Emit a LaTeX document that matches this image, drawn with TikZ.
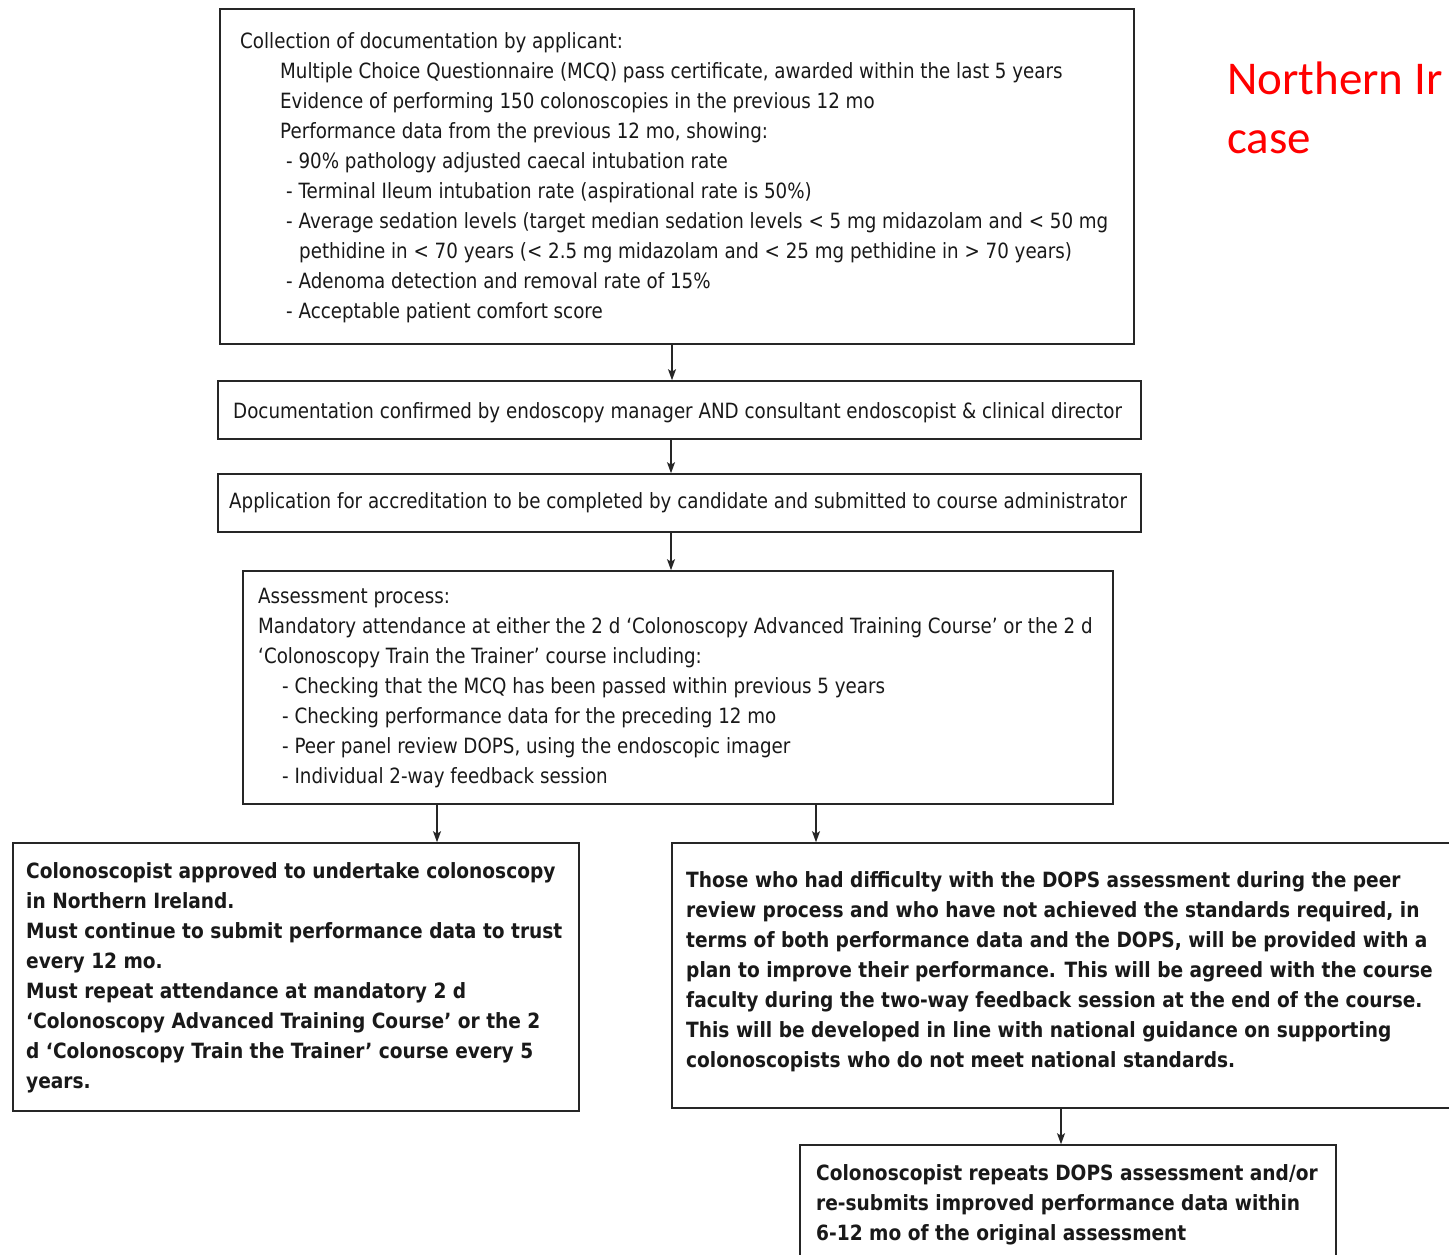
\documentclass[tikz,border=0pt]{standalone}
\usepackage{fontspec}
\setmainfont{DejaVu Sans}[FakeStretch=0.87]
\newfontfamily\bfont{DejaVu Sans}[FakeStretch=0.885]
\newfontfamily\redfont{Carlito}
\usetikzlibrary{arrows.meta}
\tikzset{
  box/.style={draw=black!85, line width=1.6pt, rectangle, inner sep=0pt},
  txt/.style={anchor=north west, inner sep=0pt, align=left, text=black!90,
    font=\fontsize{21}{30}\selectfont},
  btxt/.style={txt, font=\bfont\fontsize{21}{30}\selectfont\bfseries},
  redtxt/.style={anchor=base west, inner sep=0pt, text=red,
    font=\redfont\fontsize{47}{58}\selectfont},
  arr/.style={line width=1.3pt, draw=black!85, -{Stealth[length=11pt,width=8pt,inset=2.5pt]}},
}
\begin{document}
\begin{tikzpicture}[x=1pt,y=-1pt]
\useasboundingbox (0,0) rectangle (1449,1255);
\clip (0,0) rectangle (1449,1255);
\fill[white] (0,0) rectangle (1449,1255);

% boxes
\node[box, minimum width=914pt, minimum height=335pt] (b1) at (677,176.5) {};
\node[box, minimum width=923pt, minimum height=58pt] (b2) at (679.5,410) {};
\node[box, minimum width=923pt, minimum height=58pt] (b3) at (679.5,503) {};
\node[box, minimum width=870pt, minimum height=233pt] (b4) at (678,687.5) {};
\node[box, minimum width=566pt, minimum height=268pt] (b5) at (296,977) {};
\node[box, minimum width=790pt, minimum height=265pt] (b6) at (1067,975.5) {};
\node[box, minimum width=536pt, minimum height=125pt] (b7) at (1068,1207.5) {};

% texts
\node[txt] (t1) at (240,27) {\strut Collection of documentation by applicant:\\
\hspace*{40pt}Multiple Choice Questionnaire (MCQ) pass certificate, awarded within the last 5 years\\
\hspace*{40pt}Evidence of performing 150 colonoscopies in the previous 12 mo\\
\hspace*{40pt}Performance data from the previous 12 mo, showing:\\
\hspace*{46pt}- 90\% pathology adjusted caecal intubation rate\\
\hspace*{46pt}- Terminal Ileum intubation rate (aspirational rate is 50\%)\\
\hspace*{46pt}- Average sedation levels (target median sedation levels < 5 mg midazolam and < 50 mg\\
\hspace*{59pt}pethidine in < 70 years (< 2.5 mg midazolam and < 25 mg pethidine in > 70 years)\\
\hspace*{46pt}- Adenoma detection and removal rate of 15\%\\
\hspace*{46pt}- Acceptable patient comfort score};

\node[txt] (t2) at (233,397) {\strut Documentation confirmed by endoscopy manager AND consultant endoscopist \& clinical director};
\node[txt] (t3) at (229,487) {\strut Application for accreditation to be completed by candidate and submitted to course administrator};

\node[txt] (t4) at (258,582) {\strut Assessment process:\\
Mandatory attendance at either the 2 d ‘Colonoscopy Advanced Training Course’ or the 2 d\\
‘Colonoscopy Train the Trainer’ course including:\\
\hspace*{24pt}- Checking that the MCQ has been passed within previous 5 years\\
\hspace*{24pt}- Checking performance data for the preceding 12 mo\\
\hspace*{24pt}- Peer panel review DOPS, using the endoscopic imager\\
\hspace*{24pt}- Individual 2-way feedback session};

\node[btxt] (t5) at (26,857) {\strut Colonoscopist approved to undertake colonoscopy\\
in Northern Ireland.\\
Must continue to submit performance data to trust\\
every 12 mo.\\
Must repeat attendance at mandatory 2 d\\
‘Colonoscopy Advanced Training Course’ or the 2\\
d ‘Colonoscopy Train the Trainer’ course every 5\\
years.};

\node[btxt] (t6) at (686,866) {\strut Those who had difficulty with the DOPS assessment during the peer\\
review process and who have not achieved the standards required, in\\
terms of both performance data and the DOPS, will be provided with a\\
plan to improve their performance. This will be agreed with the course\\
faculty during the two-way feedback session at the end of the course.\\
This will be developed in line with national guidance on supporting\\
colonoscopists who do not meet national standards.};

\node[btxt] (t7) at (816,1159) {\strut Colonoscopist repeats DOPS assessment and/or\\
re-submits improved performance data within\\
6-12 mo of the original assessment};

\node[redtxt] (r1) at (1227,95) {Northern Ir};
\node[redtxt] (r2) at (1227,153) {case};

% connectors
\coordinate (x1) at (672,0);
\coordinate (x2) at (671,0);
\coordinate (x3) at (437,0);
\coordinate (x4) at (816,0);
\coordinate (x5) at (1061,0);
\draw[arr] (b1.south -| x1) -- (b2.north -| x1);
\draw[arr] (b2.south -| x2) -- (b3.north -| x2);
\draw[arr] (b3.south -| x2) -- (b4.north -| x2);
\draw[arr] (b4.south -| x3) -- (b5.north -| x3);
\draw[arr] (b4.south -| x4) -- (b6.north -| x4);
\draw[arr] (b6.south -| x5) -- (b7.north -| x5);
\end{tikzpicture}
\end{document}
